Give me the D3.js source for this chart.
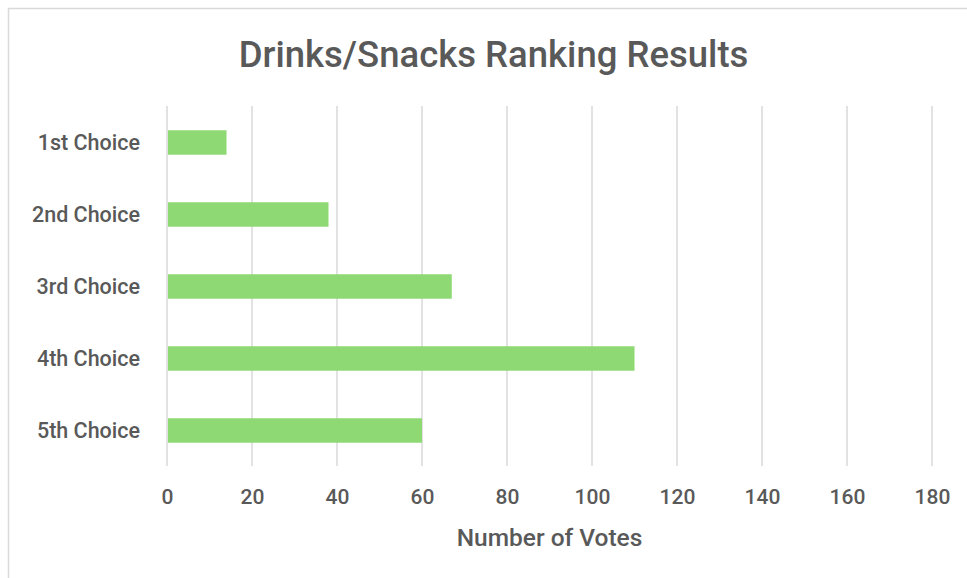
<!DOCTYPE html>
<html><head><meta charset="utf-8">
<script src="https://cdn.jsdelivr.net/npm/d3@7"></script>
<style>html,body{margin:0;padding:0;background:#fff;} svg{display:block;}</style>
</head><body>
<script>
const categories = ["1st Choice","2nd Choice","3rd Choice","4th Choice","5th Choice"];
const votes = [14, 38, 67, 110, 60];
const xTicks = [0,20,40,60,80,100,120,140,160,180];
const title = "Drinks/Snacks Ranking Results";
const xTitle = "Number of Votes";

const W = 967, H = 578;
const m = {left:167, right:W-932, top:106, bottom:H-466};
const font = "Roboto, 'Noto Sans', sans-serif";
const textColor = "#595959";

const svg = d3.select("body").append("svg").attr("width",W).attr("height",H);
svg.append("rect").attr("x",8.5).attr("y",8.5).attr("width",W+20).attr("height",H+20)
  .attr("fill","#fff").attr("stroke","#d9d9d9").attr("stroke-width",1.5);

const x = d3.scaleLinear().domain([0,180]).range([m.left, W-m.right]);
const y = d3.scaleBand().domain(categories).range([m.top, H-m.bottom]).paddingInner(0.66).paddingOuter(0.33);

// gridlines
svg.append("g").selectAll("line").data(xTicks).join("line")
  .attr("x1",d=>x(d)).attr("x2",d=>x(d)).attr("y1",m.top).attr("y2",H-m.bottom)
  .attr("stroke","#d9d9d9").attr("stroke-width",1.5);

// bars
svg.append("g").selectAll("rect").data(categories).join("rect")
  .attr("x",x(0)+1).attr("y",d=>y(d)+0.5).attr("height",y.bandwidth())
  .attr("width",(d,i)=>x(votes[i])-x(0)-1).attr("fill","#8ed973");

// x axis
const xa = svg.append("g").attr("transform",`translate(0,${H-m.bottom})`)
  .call(d3.axisBottom(x).tickValues(xTicks).tickSize(0).tickPadding(23));
xa.select(".domain").remove();
xa.selectAll("text").attr("font-family",font).attr("font-size",21).attr("font-weight",500).attr("fill",textColor);

// y axis
const ya = svg.append("g").attr("transform",`translate(${m.left},1)`)
  .call(d3.axisLeft(y).tickSize(0).tickPadding(27));
ya.select(".domain").remove();
ya.selectAll("text").attr("font-family",font).attr("font-size",21.5).attr("font-weight",500).attr("fill",textColor);

svg.append("text").attr("x",493.5).attr("y",67).attr("text-anchor","middle")
  .attr("font-family",font).attr("font-size",36.5).attr("font-weight",500).attr("fill",textColor).text(title);
svg.append("text").attr("x",(x(0)+x(180))/2).attr("y",546).attr("text-anchor","middle")
  .attr("font-family",font).attr("font-size",24.5).attr("font-weight",500).attr("fill",textColor).text(xTitle);
</script>
</body></html>
